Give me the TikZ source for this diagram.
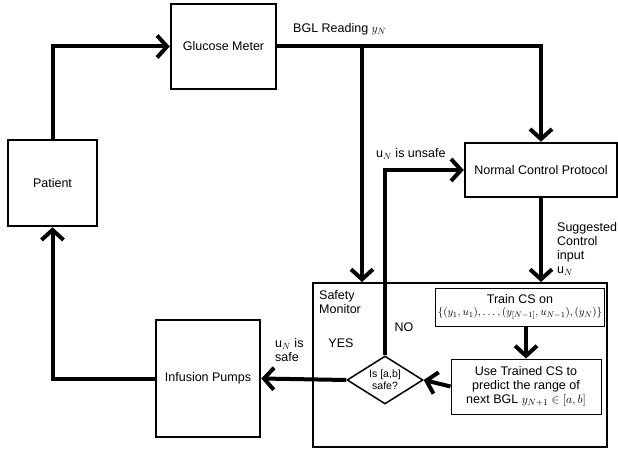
\documentclass[tikz,border=0pt]{standalone}
\usepackage{fontspec}
\setmainfont{Liberation Sans}
\usetikzlibrary{arrows.meta,shapes.geometric}
\begin{document}
\begin{tikzpicture}[x=1pt,y=-1pt,font=\fontsize{12.5}{14}\selectfont,
  block/.style={draw,line width=2.5pt,inner sep=2pt},
  sub/.style={draw,line width=1pt,align=center,inner sep=2pt},
  conn/.style={line width=4pt,-{Straight Barb[length=10pt,width=22pt]}},
  lbl/.style={align=left,inner sep=0pt}]
\useasboundingbox (0,0) rectangle (618,449);
\node[block,minimum width=105pt,minimum height=85pt] (glucose) at (223.5,46.5) {Glucose Meter};
\node[block,minimum width=89pt,minimum height=86pt] (patient) at (52.5,183) {Patient};
\node[block,minimum width=104pt,minimum height=117pt] (pumps) at (208,378.5) {Infusion Pumps};
\node[block,minimum width=152pt,minimum height=54pt] (ncp) at (541,170) {Normal Control Protocol};
\node[draw,line width=2pt,minimum width=294pt,minimum height=164pt] (monitor) at (460,365) {};
\node[sub,minimum width=166pt,minimum height=38pt] (train) at (520,307)
  {Train CS on\\[-2pt]{\fontsize{10.8}{12}\selectfont$\{(y_1,u_1),\ldots,(y_{[N-1]},u_{N-1}),(y_N)\}$}};
\node[sub,minimum width=150pt,minimum height=55pt] (use) at (526,386.5)
  {Use Trained CS to\\predict the range of\\next BGL $y_{N+1}\in[a,b]$};
\node[diamond,draw,line width=1.5pt,aspect=1.6,inner sep=0pt,minimum width=76pt,minimum height=48pt,
  align=center,font=\fontsize{10.5}{12}\selectfont] (dia) at (385,380) {Is [a,b]\\safe?};
\coordinate (split) at (362,47);
\draw[conn] (patient.north) |- (glucose.west);
\draw[conn] (pumps.west) -| (patient.south);
\draw[conn] (glucose.east) -| (ncp.north);
\draw[conn] (split) -- (split |- monitor.north);
\draw[conn] (ncp.south) -- (ncp.south |- monitor.north);
\draw[conn] (use.north |- train.south) -- (use.north);
\draw[conn] (use.west) -- (dia.east);
\draw[conn] (dia.west) -- (pumps.east);
\draw[conn] (dia.north) |- (ncp.west);
\node[lbl,anchor=west] (bgl) at (293,29) {BGL Reading $y_N$};
\node[lbl,anchor=west] (unsafe) at (376,154) {$\mathrm{u}_N$ is unsafe};
\node[lbl,anchor=north west] (suggest) at (557,222) {Suggested\\Control\\input\\$\mathrm{u}_N$};
\node[lbl,anchor=north west] (smlbl) at (319,290) {Safety\\Monitor};
\node[lbl] (no) at (404,327) {NO};
\node[lbl] (yes) at (341,343) {YES};
\node[lbl,anchor=west] (safe) at (275,350) {$\mathrm{u}_N$ is\\safe};
\end{tikzpicture}
\end{document}
